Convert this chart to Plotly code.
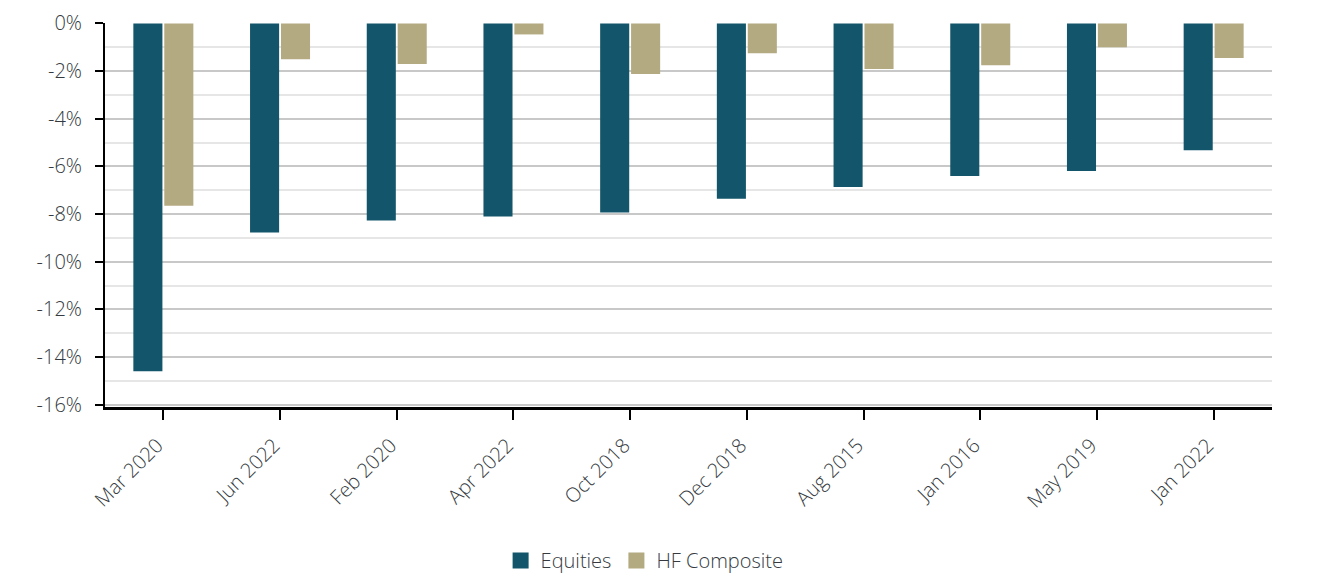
import plotly.graph_objects as go

categories = ["Mar 2020", "Jun 2022", "Feb 2020", "Apr 2022", "Oct 2018",
              "Dec 2018", "Aug 2015", "Jan 2016", "May 2019", "Jan 2022"]
equities = [-14.6, -8.77, -8.27, -8.1, -7.94, -7.36, -6.86, -6.4, -6.19, -5.32]
hf_composite = [-7.65, -1.5, -1.7, -0.46, -2.12, -1.25, -1.91, -1.75, -1.0, -1.45]
tick_vals = [0, -2, -4, -6, -8, -10, -12, -14, -16]
tick_text = ["0%", "-2%", "-4%", "-6%", "-8%", "-10%", "-12%", "-14%", "-16%"]

font_family = "Open Sans, Lato, sans-serif"
text_color = "#343a40"
eq_color = "#13566B"
hf_color = "#B3AA82"

fig = go.Figure()
fig.add_trace(go.Bar(x=categories, y=equities, name="Equities", showlegend=False,
                     marker=dict(color=eq_color, line=dict(width=0))))
fig.add_trace(go.Bar(x=categories, y=hf_composite, name="HF Composite", showlegend=False,
                     marker=dict(color=hf_color, line=dict(width=0))))
# legend entries with larger square swatches
fig.add_trace(go.Scatter(x=[None], y=[None], mode="markers", name="Equities",
                         marker=dict(symbol="square", size=20, color=eq_color)))
fig.add_trace(go.Scatter(x=[None], y=[None], mode="markers", name="HF Composite",
                         marker=dict(symbol="square", size=20, color=hf_color)))

fig.update_layout(
    width=1322, height=580,
    margin=dict(l=97, r=58, t=15, b=181, autoexpand=False),
    paper_bgcolor="white", plot_bgcolor="white",
    barmode="group", bargap=0.47, bargroupgap=0.06,
    font=dict(family=font_family, size=19, color=text_color, weight=300),
    showlegend=True,
    legend=dict(orientation="h", x=0.339, xanchor="left", y=-0.4, yanchor="middle",
                font=dict(size=20, color=text_color, weight=300), itemsizing="trace",
                traceorder="normal"),
)
fig.update_xaxes(
    showline=True, linecolor="black", linewidth=2.5,
    ticks="outside", ticklen=10, tickwidth=2, tickcolor="black",
    tickangle=-45, showgrid=False,
    ticklabelstandoff=6, ticklabelshift=-6,
    tickfont=dict(size=20, color=text_color, weight=300),
)
fig.update_yaxes(
    range=[-16.1, 0.02],
    tickvals=tick_vals, ticktext=tick_text,
    showline=True, linecolor="black", linewidth=2,
    ticks="outside", ticklen=8, tickwidth=2, tickcolor="black",
    ticklabelstandoff=9, ticklabeloverflow="allow",
    showgrid=True, gridcolor="#c8c8c8", gridwidth=1.5,
    zeroline=False,
    minor=dict(dtick=1, tick0=0, showgrid=True, gridcolor="#e6e6e6", gridwidth=1.5),
    tickfont=dict(size=20, color=text_color, weight=300),
)

fig.write_html("out.html")
